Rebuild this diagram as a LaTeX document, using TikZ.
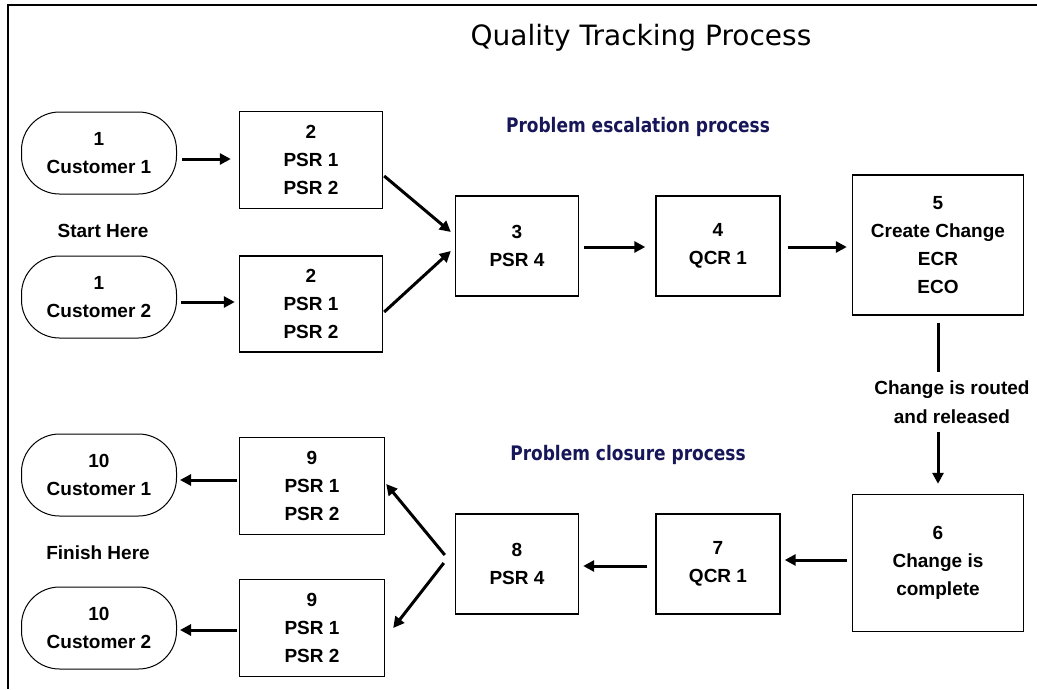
\documentclass[tikz,border=0pt]{standalone}
\usepackage{fontspec}
\setmainfont{Liberation Sans}
\newfontfamily\titlefont{DejaVu Sans}
\usetikzlibrary{arrows.meta,calc}
\definecolor{navy}{RGB}{22,22,88}
\tikzset{
  box/.style={draw, line width=1.4pt, inner sep=0pt, align=center,
    font=\bfseries\fontsize{19}{28}\selectfont},
  cust/.style={box, rounded corners=38pt, line width=1pt, minimum width=155, minimum height=82},
  arr/.style={line width=3pt, -{Triangle[length=11pt,width=11pt]}},
  plain/.style={line width=3pt},
  note/.style={font=\bfseries\fontsize{19}{29}\selectfont, align=center, inner sep=0pt},
  sub/.style={font=\titlefont\bfseries\fontsize{20}{24}\selectfont, text=navy, inner sep=0pt},
}
\begin{document}
\begin{tikzpicture}[x=1pt,y=-1pt]
\useasboundingbox (0,0) rectangle (1037,689);
\fill[white] (0,0) rectangle (1037,689);
\draw[line width=2pt] (1037,5) -- (8,5) -- (8,689);

\node[font=\titlefont\fontsize{28}{32}\selectfont, inner sep=0pt] (title) at (641,38) {Quality Tracking Process};
\node[sub] (esc) at (638,127) {\scalebox{0.85}[1]{Problem escalation process}};
\node[sub] (clo) at (628,455) {\scalebox{0.85}[1]{Problem closure process}};

\node[cust] (c1) at (99,153) {1\\Customer 1};
\node[cust] (c2) at (99,297) {1\\Customer 2};
\node[note] (start) at (103,231) {Start Here};
\node[box, minimum width=143, minimum height=97] (b2a) at (311,160) {2\\PSR 1\\PSR 2};
\node[box, minimum width=143, minimum height=96] (b2b) at (311,304) {2\\PSR 1\\PSR 2};
\node[box, minimum width=123, minimum height=100] (b3) at (517,246) {3\\PSR 4};
\node[box, minimum width=124, minimum height=100] (b4) at (718,246) {4\\QCR 1};
\node[box, minimum width=171, minimum height=140] (b5) at (938,245) {5\\Create Change\\ECR\\ECO};
\node[note] (lbl) at (952,402) {Change is routed\\and released};
\node[box, minimum width=171, minimum height=137] (b6) at (938,563) {6\\Change is\\complete};
\node[box, minimum width=124, minimum height=100] (b7) at (718,564) {7\\QCR 1};
\node[box, minimum width=123, minimum height=100] (b8) at (517,564) {8\\PSR 4};
\node[box, minimum width=145, minimum height=97] (b9a) at (312,486) {9\\PSR 1\\PSR 2};
\node[box, minimum width=145, minimum height=97] (b9b) at (312,628) {9\\PSR 1\\PSR 2};
\node[cust] (d1) at (99,475) {10\\Customer 1};
\node[cust] (d2) at (99,628) {10\\Customer 2};
\node[note] (finish) at (98,553) {Finish Here};

\draw[arr] ($(c1.east)+(5,6)$) -- ($(b2a.west)+(-8,-1)$);
\draw[arr] ($(c2.east)+(4,5)$) -- ($(b2b.west)+(-4,-2)$);
\draw[arr] ($(b2a.east)+(1,16)$) -- ($(b3.west)+(-4,-14)$);
\draw[arr] ($(b2b.east)+(1,8)$) -- ($(b3.west)+(-4,5)$);
\draw[arr] ($(b3.east)+(5,1)$) -- ($(b4.west)+(-10,1)$);
\draw[arr] ($(b4.east)+(7,1)$) -- ($(b5.west)+(-5,2)$);
\draw[plain] ($(b5.south)+(0,7)$) -- ($(b5.south |- lbl.north)+(0,-8)$);
\draw[arr] ($(b5.south |- lbl.south)+(0,8)$) -- ($(b6.north)+(0,-10)$);
\draw[arr] ($(b6.west)+(-5,-3)$) -- ($(b7.east)+(4,-4)$);
\draw[arr] ($(b7.west)+(-8,2)$) -- ($(b8.east)+(4,2)$);
\draw[arr] ($(b8.west)+(-10,-9)$) -- ($(b9a.east)+(1,-2)$);
\draw[arr] ($(b8.west)+(-11,-1)$) -- ($(b9b.east)+(8,0)$);
\draw[arr] ($(b9a.west)+(-2,-6)$) -- ($(d1.east)+(3,5)$);
\draw[arr] ($(b9b.west)+(-2,2)$) -- ($(d2.east)+(3,2)$);
\end{tikzpicture}
\end{document}
